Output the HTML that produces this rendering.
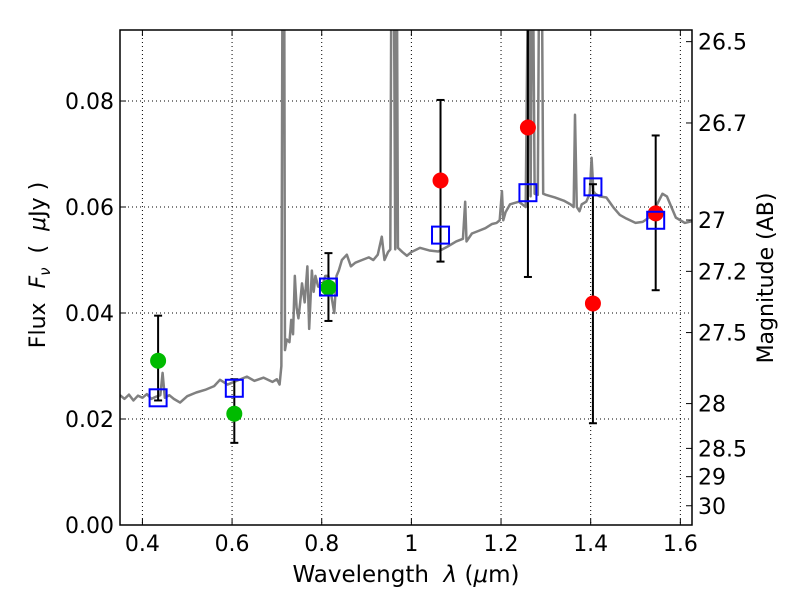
<!DOCTYPE html>
<html><head><meta charset="utf-8"><style>
body{margin:0;background:#fff;}
svg text{font-family:"DejaVu Sans","Liberation Sans",sans-serif;white-space:pre;}
</style></head><body>
<svg id="chart" width="800" height="600" xmlns="http://www.w3.org/2000/svg"></svg>
<script>
const specWave=[0.35,0.36,0.37,0.38,0.39,0.40,0.41,0.42,0.43,0.44,0.445,0.45,0.46,0.47,0.484,0.50,0.52,0.54,0.56,0.573,0.59,0.61,0.633,0.65,0.67,0.69,0.70,0.706,0.710,0.713,0.716,0.718,0.722,0.728,0.732,0.736,0.740,0.744,0.748,0.752,0.756,0.762,0.768,0.772,0.778,0.782,0.786,0.792,0.80,0.808,0.815,0.822,0.828,0.833,0.838,0.845,0.856,0.865,0.875,0.89,0.905,0.915,0.925,0.934,0.94,0.948,0.953,0.956,0.960,0.964,0.967,0.970,0.98,0.99,1.00,1.019,1.04,1.06,1.08,1.10,1.115,1.12,1.123,1.127,1.135,1.15,1.165,1.18,1.19,1.197,1.202,1.205,1.21,1.22,1.24,1.255,1.262,1.266,1.270,1.275,1.282,1.286,1.290,1.294,1.30,1.32,1.34,1.355,1.362,1.365,1.369,1.375,1.38,1.39,1.398,1.402,1.406,1.41,1.42,1.435,1.45,1.465,1.48,1.50,1.516,1.53,1.545,1.56,1.57,1.58,1.59,1.60,1.61,1.625];
const specFlux=[0.0245,0.0238,0.0246,0.0235,0.0244,0.0240,0.0247,0.0238,0.0242,0.0245,0.0287,0.0240,0.0245,0.0238,0.0231,0.0243,0.0250,0.0255,0.0262,0.0274,0.0265,0.0272,0.0280,0.0272,0.0278,0.0270,0.0275,0.0265,0.0300,0.1200,0.1200,0.0330,0.0350,0.0345,0.0387,0.0360,0.0470,0.0410,0.0390,0.0420,0.0456,0.0420,0.0488,0.0370,0.0480,0.0440,0.0470,0.0450,0.0448,0.0470,0.0470,0.0430,0.0400,0.0470,0.0480,0.0500,0.0510,0.0488,0.0495,0.0500,0.0505,0.0500,0.0510,0.0544,0.0500,0.0515,0.0520,0.1200,0.1200,0.0520,0.1200,0.0523,0.0515,0.0508,0.0515,0.0523,0.0518,0.0516,0.0525,0.0535,0.0540,0.0610,0.0535,0.0540,0.0550,0.0555,0.0560,0.0568,0.0570,0.0575,0.0630,0.0575,0.0590,0.0605,0.0610,0.0600,0.1200,0.0620,0.1200,0.0625,0.0623,0.1200,0.1200,0.0625,0.0623,0.0618,0.0612,0.0605,0.0600,0.0774,0.0600,0.0592,0.0605,0.0610,0.0625,0.0693,0.0630,0.0625,0.0620,0.0618,0.0600,0.0585,0.0578,0.0570,0.0572,0.0580,0.0600,0.0625,0.0620,0.0600,0.0580,0.0575,0.0570,0.0573];
const photWave=[0.435,0.605,0.815,1.065,1.26,1.405,1.545];
const photFlux=[0.031,0.021,0.0448,0.065,0.075,0.0418,0.0588];
const photLo=[0.0235,0.0155,0.0385,0.0497,0.0468,0.0192,0.0443];
const photHi=[0.0395,0.0275,0.0513,0.0802,0.1200,0.0643,0.0735];
const photColor=["#00bb00","#00bb00","#00bb00","#ff0000","#ff0000","#ff0000","#ff0000"];
const modelFlux=[0.0240,0.0258,0.0449,0.0547,0.0627,0.0638,0.0575];
const xTicks=[0.4,0.6,0.8,1.0,1.2,1.4,1.6];
const xTickLabels=["0.4","0.6","0.8","1","1.2","1.4","1.6"];
const yTicks=[0,0.02,0.04,0.06,0.08];
const yTickLabels=["0.00","0.02","0.04","0.06","0.08"];
const magTicks=[26.5,26.7,27,27.2,27.5,28,28.5,29,30];

const L=120,R=692,T=30,B=525,XMIN=0.35,XMAX=1.626,YMIN=0,YMAX=0.0934;
const xs=v=>L+(v-XMIN)/(XMAX-XMIN)*(R-L);
const ys=v=>B-(v-YMIN)/(YMAX-YMIN)*(B-T);
const NS="http://www.w3.org/2000/svg";
const svg=document.getElementById('chart');
function mk(tag,attrs,parent){const e=document.createElementNS(NS,tag);for(const k in attrs)e.setAttribute(k,attrs[k]);(parent||svg).appendChild(e);return e;}
const defs=mk('defs',{});const cp=mk('clipPath',{id:'clip'},defs);mk('rect',{x:L,y:T,width:R-L,height:B-T},cp);

const grid=mk('g',{});


xTicks.forEach((t,i)=>{
  const x=xs(t);
  const gl=mk('line',{x1:x,x2:x,y1:T,y2:B,stroke:'#000','stroke-width':1,'stroke-dasharray':'1,3'},grid);
  
  
  mk('line',{x1:x,x2:x,y1:B,y2:B-6,stroke:'#000'});
  mk('line',{x1:x,x2:x,y1:T,y2:T+6,stroke:'#000'});
  const tl=mk('text',{x:x,y:B+26,'font-size':22,'text-anchor':'middle'});
  tl.textContent=xTickLabels[i];
  
  
});
yTicks.forEach((t,i)=>{
  const y=ys(t);
  const gl=mk('line',{x1:L,x2:R,y1:y,y2:y,stroke:'#000','stroke-width':1,'stroke-dasharray':'1,3'},grid);
  
  
  mk('line',{x1:L,x2:L+6,y1:y,y2:y,stroke:'#000'});
  const tl=mk('text',{x:L-6,y:y+8,'font-size':22,'text-anchor':'end'});
  tl.textContent=yTickLabels[i];
  
  
});
magTicks.forEach(m=>{
  const f=Math.pow(10,(23.9-m)/2.5);
  const y=ys(f);
  mk('line',{x1:R,x2:R-6,y1:y,y2:y,stroke:'#000'});
  const tl=mk('text',{x:R+6,y:y+8,'font-size':22});
  tl.textContent=String(m);
  
  
});

const plot=mk('g',{'clip-path':'url(#clip)'});
const spec=mk('polyline',{points:specWave.map((w,i)=>xs(w)+','+ys(specFlux[i])).join(' '),fill:'none',stroke:'#808080','stroke-width':2.5,'stroke-linejoin':'round'},plot);



photWave.forEach((w,i)=>{
  const x=xs(w);
  const eb=mk('g',{stroke:'#000','stroke-width':2},plot);
  
  
  mk('line',{x1:x,x2:x,y1:ys(photLo[i]),y2:ys(photHi[i])},eb);
  mk('line',{x1:x-4,x2:x+4,y1:ys(photLo[i]),y2:ys(photLo[i])},eb);
  mk('line',{x1:x-4,x2:x+4,y1:ys(photHi[i]),y2:ys(photHi[i])},eb);
});
photWave.forEach((w,i)=>{
  const c=mk('circle',{cx:xs(w),cy:ys(photFlux[i]),r:8,fill:photColor[i]},plot);
  
  
});
photWave.forEach((w,i)=>{
  const s=mk('rect',{x:xs(w)-8.5,y:ys(modelFlux[i])-8.5,width:17,height:17,fill:'none',stroke:'#0000ff','stroke-width':2},plot);
  
  
});

const frame=mk('rect',{x:L,y:T,width:R-L,height:B-T,fill:'none',stroke:'#000','stroke-width':1.5});



const xl=mk('text',{x:406,y:582,'font-size':23,'text-anchor':'middle'});
xl.innerHTML='Wavelength  <tspan font-style="italic">λ</tspan> (<tspan font-style="italic">μ</tspan>m)';


const yl=mk('text',{x:0,y:0,'font-size':22,'text-anchor':'middle',transform:'translate(45,265) rotate(-90)'});
yl.innerHTML='Flux  <tspan font-style="italic">F</tspan><tspan font-style="italic" font-size="15" dy="5">ν</tspan><tspan dy="-5">  (  </tspan><tspan font-style="italic">μ</tspan>Jy )';


const ml=mk('text',{x:0,y:0,'font-size':22,'text-anchor':'middle',transform:'translate(773,278) rotate(-90)'});
ml.textContent='Magnitude (AB)';


</script>
</body></html>
